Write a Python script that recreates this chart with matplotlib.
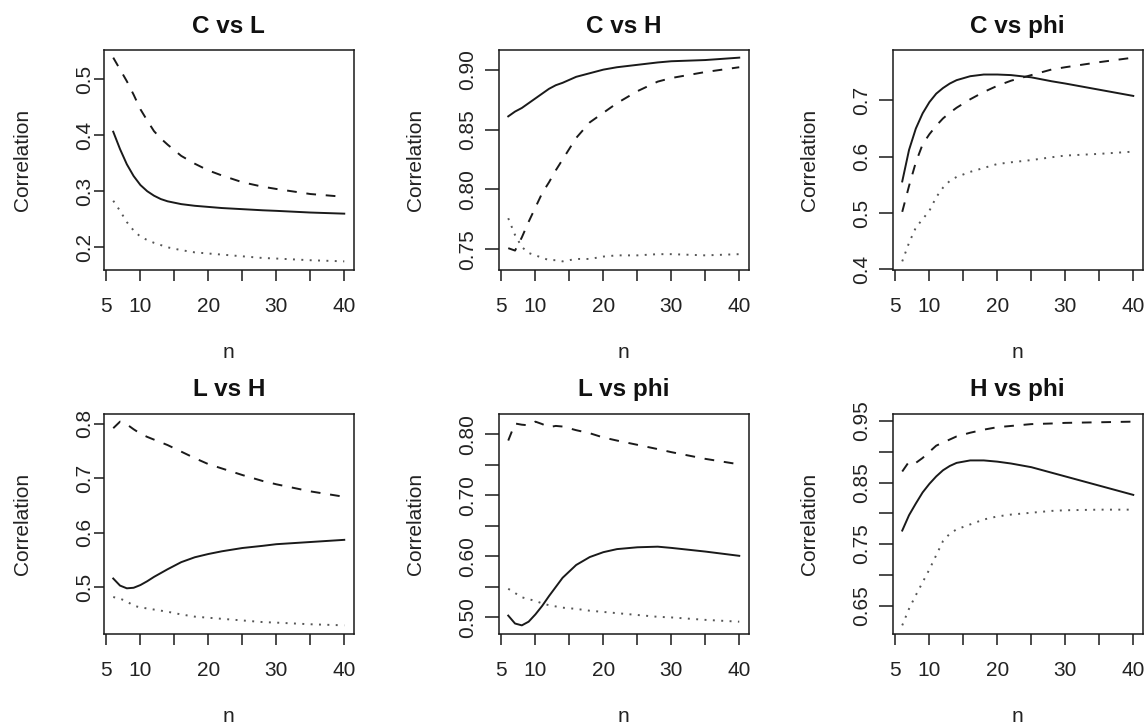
import matplotlib
matplotlib.use("Agg")
import matplotlib.pyplot as plt

plt.rcParams['font.family'] = ['Liberation Sans', 'DejaVu Sans']

# Sample sizes at which the correlations were evaluated
n_values = [6, 7, 8, 9, 10, 11, 12, 13, 14, 16, 18, 20, 22, 25, 28, 30, 35, 40]

# Panel titles
titles = ["C vs L", "C vs H", "C vs phi", "L vs H", "L vs phi", "H vs phi"]

# Correlation curves per panel (solid, dashed, dotted)
c_l_solid = [0.406, 0.375, 0.348, 0.327, 0.311, 0.300, 0.292, 0.286, 0.282, 0.277, 0.274, 0.272, 0.270, 0.268, 0.266, 0.265, 0.262, 0.260]
c_l_dashed = [0.538, 0.517, 0.496, 0.472, 0.446, 0.426, 0.407, 0.394, 0.383, 0.363, 0.349, 0.337, 0.328, 0.316, 0.308, 0.304, 0.295, 0.290]
c_l_dotted = [0.283, 0.265, 0.245, 0.230, 0.219, 0.213, 0.208, 0.204, 0.200, 0.195, 0.191, 0.189, 0.187, 0.184, 0.181, 0.180, 0.177, 0.175]

c_h_solid = [0.861, 0.865, 0.868, 0.872, 0.876, 0.880, 0.884, 0.887, 0.889, 0.894, 0.897, 0.900, 0.902, 0.904, 0.906, 0.907, 0.908, 0.910]
c_h_dashed = [0.751, 0.749, 0.760, 0.773, 0.785, 0.797, 0.806, 0.816, 0.825, 0.843, 0.856, 0.864, 0.872, 0.882, 0.890, 0.893, 0.898, 0.902]
c_h_dotted = [0.776, 0.762, 0.752, 0.747, 0.745, 0.743, 0.741, 0.741, 0.740, 0.742, 0.742, 0.744, 0.745, 0.745, 0.746, 0.746, 0.745, 0.746]

c_phi_solid = [0.556, 0.612, 0.650, 0.677, 0.697, 0.712, 0.722, 0.730, 0.736, 0.743, 0.746, 0.746, 0.745, 0.741, 0.734, 0.730, 0.719, 0.708]
c_phi_dashed = [0.502, 0.548, 0.590, 0.622, 0.640, 0.655, 0.668, 0.678, 0.687, 0.702, 0.715, 0.726, 0.735, 0.745, 0.755, 0.759, 0.768, 0.776]
c_phi_dotted = [0.414, 0.447, 0.474, 0.489, 0.504, 0.528, 0.545, 0.557, 0.564, 0.573, 0.580, 0.587, 0.590, 0.594, 0.599, 0.602, 0.605, 0.609]

l_h_solid = [0.516, 0.503, 0.498, 0.499, 0.504, 0.511, 0.519, 0.526, 0.533, 0.546, 0.555, 0.561, 0.566, 0.572, 0.576, 0.579, 0.583, 0.587]
l_h_dashed = [0.792, 0.804, 0.799, 0.790, 0.782, 0.776, 0.771, 0.766, 0.761, 0.749, 0.737, 0.726, 0.718, 0.706, 0.695, 0.689, 0.676, 0.666]
l_h_dotted = [0.482, 0.479, 0.474, 0.466, 0.463, 0.461, 0.459, 0.457, 0.455, 0.450, 0.446, 0.444, 0.442, 0.439, 0.436, 0.435, 0.432, 0.430]

l_phi_solid = [0.503, 0.490, 0.487, 0.493, 0.505, 0.519, 0.535, 0.550, 0.565, 0.586, 0.599, 0.607, 0.612, 0.615, 0.616, 0.614, 0.608, 0.601]
l_phi_dashed = [0.790, 0.818, 0.816, 0.815, 0.821, 0.817, 0.812, 0.814, 0.813, 0.807, 0.802, 0.795, 0.790, 0.783, 0.776, 0.771, 0.760, 0.751]
l_phi_dotted = [0.547, 0.540, 0.533, 0.530, 0.527, 0.523, 0.520, 0.518, 0.516, 0.514, 0.511, 0.509, 0.507, 0.504, 0.501, 0.500, 0.496, 0.493]

h_phi_solid = [0.772, 0.797, 0.816, 0.834, 0.848, 0.860, 0.870, 0.877, 0.882, 0.886, 0.886, 0.884, 0.881, 0.875, 0.866, 0.860, 0.845, 0.830]
h_phi_dashed = [0.868, 0.884, 0.882, 0.890, 0.900, 0.910, 0.915, 0.920, 0.925, 0.931, 0.936, 0.940, 0.942, 0.945, 0.946, 0.947, 0.948, 0.949]
h_phi_dotted = [0.618, 0.645, 0.667, 0.688, 0.709, 0.732, 0.755, 0.767, 0.774, 0.782, 0.790, 0.795, 0.798, 0.801, 0.804, 0.805, 0.806, 0.806]

series = [
    (c_l_solid, c_l_dashed, c_l_dotted),
    (c_h_solid, c_h_dashed, c_h_dotted),
    (c_phi_solid, c_phi_dashed, c_phi_dotted),
    (l_h_solid, l_h_dashed, l_h_dotted),
    (l_phi_solid, l_phi_dashed, l_phi_dotted),
    (h_phi_solid, h_phi_dashed, h_phi_dotted),
]

# Axis ticks and their labels
x_ticks = [5, 10, 15, 20, 25, 30, 35, 40]
x_tick_labels = ["5", "10", "", "20", "", "30", "", "40"]

y_ticks = [
    [0.2, 0.3, 0.4, 0.5],
    [0.75, 0.80, 0.85, 0.90],
    [0.4, 0.5, 0.6, 0.7],
    [0.5, 0.6, 0.7, 0.8],
    [0.50, 0.55, 0.60, 0.65, 0.70, 0.75, 0.80],
    [0.65, 0.70, 0.75, 0.80, 0.85, 0.90, 0.95],
]
y_tick_labels = [
    ["0.2", "0.3", "0.4", "0.5"],
    ["0.75", "0.80", "0.85", "0.90"],
    ["0.4", "0.5", "0.6", "0.7"],
    ["0.5", "0.6", "0.7", "0.8"],
    ["0.50", "", "0.60", "", "0.70", "", "0.80"],
    ["0.65", "", "0.75", "", "0.85", "", "0.95"],
]

W, H = 1147, 725
fig = plt.figure(figsize=(W / 100, H / 100), dpi=100)
fig.patch.set_facecolor("white")

col_left = [104, 499, 893]
row_top = [49.5, 413.5]
box_w, box_h = 249.5, 220.0
px = 0.72  # points per pixel at 100 dpi

text_color = "#222222"
line_color = "#1a1a1a"

for i, (title, (solid, dashed, dotted)) in enumerate(zip(titles, series)):
    r, c = divmod(i, 3)
    left = col_left[c]
    top = row_top[r]
    ax = fig.add_axes([left / W, (H - top - box_h) / H, box_w / W, box_h / H])

    ax.plot(n_values, solid, color=line_color, lw=1.4, linestyle="-")
    ax.plot(n_values, dashed, color=line_color, lw=1.4, linestyle=(0, (5.0, 5.0)))
    ax.plot(n_values, dotted, color="#555555", lw=1.4, linestyle=(0, (1.0, 3.3)))

    ax.margins(x=0.04, y=0.04)

    ax.set_xticks(x_ticks)
    ax.set_xticklabels(x_tick_labels)
    ax.set_yticks(y_ticks[i])
    ax.set_yticklabels(y_tick_labels[i])

    for sp in ax.spines.values():
        sp.set_linewidth(1.1)
        sp.set_color(line_color)

    ax.tick_params(axis="x", length=11 * px, width=1.1, pad=16.5 * px,
                   labelsize=15, colors=line_color, labelcolor=text_color)
    if c == 0:
        ylen, ypad, ylab_off = 10, 0, -81
    else:
        ylen, ypad, ylab_off = 14, 8, -84
    ax.tick_params(axis="y", length=ylen * px, width=1.1, pad=ypad * px,
                   labelsize=15, colors=line_color, labelcolor=text_color,
                   labelrotation=90)
    for lab in ax.get_yticklabels():
        lab.set_va("center")

    ax.set_ylabel("Correlation", fontsize=15, color=text_color)
    ax.yaxis.set_label_coords(ylab_off / box_w, 0.5)
    ax.yaxis.label.set_va("center")

    ax.set_xlabel("n", fontsize=15, color=text_color)
    ax.xaxis.set_label_coords(0.5, -83 / box_h)
    ax.xaxis.label.set_va("center")

    ax.text(0.5, 1 + 23.5 / box_h, title, transform=ax.transAxes,
            ha="center", va="center", fontsize=17.5, fontweight="bold",
            color="#111111")

fig.savefig("out.png", dpi=100, facecolor="white")
